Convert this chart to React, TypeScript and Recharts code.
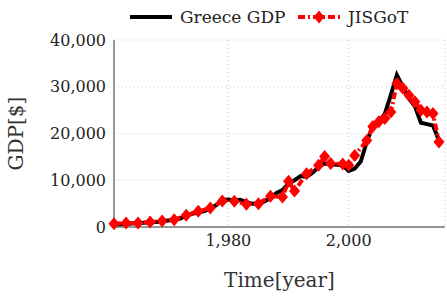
import React from "react"
import {
  LineChart,
  Line,
  XAxis,
  YAxis,
  CartesianGrid,
} from "recharts"

// Greece GDP per capita, yearly
const gdpYears = [
  1961, 1962, 1963, 1964, 1965, 1966, 1967, 1968, 1969, 1970,
  1971, 1972, 1973, 1974, 1975, 1976, 1977, 1978, 1979, 1980,
  1981, 1982, 1983, 1984, 1985, 1986, 1987, 1988, 1989, 1990,
  1991, 1992, 1993, 1994, 1995, 1996, 1997, 1998, 1999, 2000,
  2001, 2002, 2003, 2004, 2005, 2006, 2007, 2008, 2009, 2010,
  2011, 2012, 2013, 2014, 2015,
]
const gdpValues = [
  575, 608, 666, 747, 841, 921, 993, 1070, 1212, 1395,
  1549, 1805, 2414, 2810, 3085, 3400, 3900, 4700, 5800, 5900,
  5700, 5800, 5300, 5000, 5100, 5500, 6200, 7300, 7900, 9300,
  10000, 10900, 10700, 11600, 12800, 13600, 13400, 13300, 13200, 12000,
  12500, 14000, 18200, 21600, 22500, 24200, 28200, 32500, 30000, 27500,
  25800, 22300, 22000, 21700, 18500,
]

// JISGoT estimates
const jisYears = [
  1961, 1963, 1965, 1967, 1969, 1971, 1973, 1975, 1977, 1979,
  1981, 1983, 1985, 1987, 1989, 1990, 1991, 1993, 1995, 1996,
  1997, 1999, 2000, 2001, 2003, 2004, 2005, 2006, 2007, 2008,
  2009, 2010, 2011, 2012, 2013, 2014, 2015,
]
const jisValues = [
  700, 860, 860, 1070, 1290, 1570, 2500, 3360, 4070, 5570,
  5500, 4860, 5000, 6600, 6400, 9800, 7700, 11400, 13200, 15100,
  13600, 13500, 13200, 15300, 18500, 21500, 22500, 23200, 24600, 30700,
  29700, 28200, 26800, 25000, 24600, 24300, 18200,
]

const xTicks = [1980, 2000]
const yTicks = [0, 10000, 20000, 30000, 40000]

const gdpData = gdpYears.map((year, i) => ({ year, v: gdpValues[i] }))
const jisData = jisYears.map((year, i) => ({ year, v: jisValues[i] }))

const font = "DejaVu Serif, serif"
const fmt = (v: number) => v.toLocaleString("en-US")

const Diamond = (p: any) => {
  const { cx, cy, index } = p
  if (cx == null || cy == null) return <g key={index} />
  return (
    <path
      key={index}
      d={`M${cx},${cy - 6.5}L${cx + 5.5},${cy}L${cx},${cy + 6.5}L${cx - 5.5},${cy}Z`}
      fill="#ff0000"
    />
  )
}

const Legend = () => (
  <svg width={447} height={32} style={{ position: "absolute", left: 0, top: 0 }}>
    <line x1={130} y1={17} x2={172} y2={17} stroke="#000" strokeWidth={4} />
    <text x={180} y={23} fontFamily={font} fontSize={17} fill="#222">Greece GDP</text>
    <line x1={298} y1={17} x2={340} y2={17} stroke="#ff0000" strokeWidth={4} strokeDasharray="7 3 2 3" />
    <path d="M319,10.5L324.5,17L319,23.5L313.5,17Z" fill="#ff0000" />
    <text x={348} y={23} fontFamily={font} fontSize={17} fill="#222">JISGoT</text>
  </svg>
)

export default function App() {
  return (
    <div style={{ position: "absolute", left: 0, top: 0, width: 447, height: 300 }}>
      <LineChart width={447} height={300} margin={{ top: 40, right: 2, left: 0, bottom: 0 }}>
        <CartesianGrid stroke="#c8c8c8" strokeDasharray="1 3" />
        <XAxis
          dataKey="year"
          type="number"
          domain={[1961, 2016]}
          ticks={xTicks}
          tickFormatter={fmt}
          tickLine={false}
          axisLine={{ stroke: "#333", strokeWidth: 1 }}
          height={73}
          tick={{ fill: "#222", fontFamily: font, fontSize: 16 }}
          allowDuplicatedCategory={false}
          label={{ value: "Time[year]", position: "insideBottom", offset: 13, fill: "#333", fontFamily: font, fontSize: 20 }}
        />
        <XAxis xAxisId="top" orientation="top" height={0} tick={false} tickLine={false} axisLine={{ stroke: "#333" }} />
        <YAxis
          type="number"
          domain={[0, 40000]}
          ticks={yTicks}
          tickFormatter={fmt}
          tickLine={false}
          axisLine={{ stroke: "#777", strokeWidth: 1.5 }}
          width={114}
          tick={{ fill: "#222", fontFamily: font, fontSize: 16 }}
          label={{ value: "GDP[$]", angle: -90, position: "insideLeft", offset: 16, fill: "#333", fontFamily: font, fontSize: 20, style: { textAnchor: "middle" } }}
        />
        <YAxis yAxisId="right" orientation="right" width={0} tick={false} tickLine={false} axisLine={{ stroke: "#333" }} />
        <Line
          data={gdpData}
          dataKey="v"
          stroke="#000"
          strokeWidth={4}
          dot={false}
          isAnimationActive={false}
        />
        <Line
          data={jisData}
          dataKey="v"
          stroke="#ff0000"
          strokeWidth={4}
          strokeDasharray="7 3 2 3"
          dot={Diamond}
          isAnimationActive={false}
        />
      </LineChart>
      <Legend />
    </div>
  )
}
